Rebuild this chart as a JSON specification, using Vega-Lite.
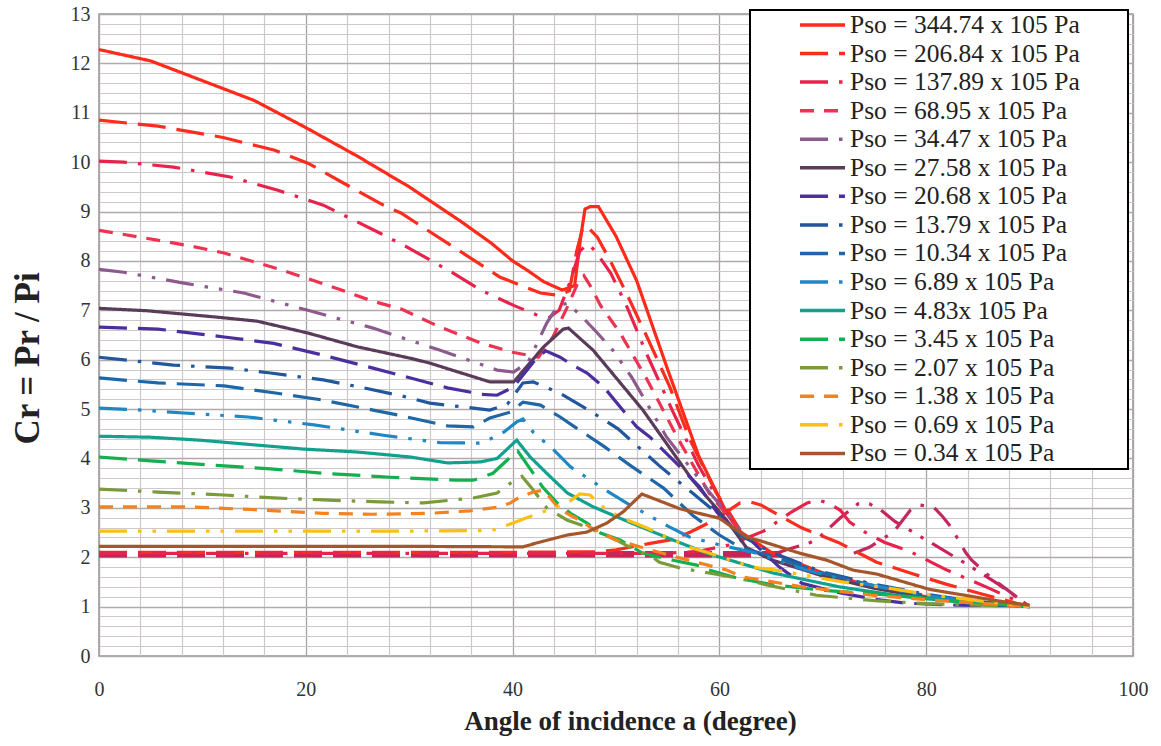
{
  "$schema": "https://vega.github.io/schema/vega-lite/v6.json",
  "width": 1034,
  "height": 642,
  "autosize": {"type": "none"},
  "padding": {"left": 99, "top": 14, "right": 28, "bottom": 90},
  "background": "white",
  "config": {
    "view": {"stroke": "#9a9494", "strokeWidth": 1.5},
    "legend": {
      "orient": "none", "legendX": 651, "legendY": -4,
      "fillColor": "white", "strokeColor": "black", "strokeWidth": 2, "padding": 1,
      "symbolType": "stroke", "symbolSize": 2025, "symbolStrokeWidth": 3.5, "symbolOffset": 47,
      "labelFont": "Liberation Serif", "labelFontSize": 25.5, "labelColor": "#222",
      "labelOffset": 3, "labelLimit": 500, "rowPadding": 0.56, "clipHeight": 28,
      "titleOrient": "right", "titleFontSize": 12, "titleColor": "white", "titlePadding": 43
    }
  },
  "datasets": {
    "t": [{"x": 0, "y": 2.06}, {"x": 66, "y": 2.06}],
    "c": [
      {"x":65.5,"y":2.08},{"x":66.5,"y":2.15},{"x":68.8,"y":2.3},{"x":69.6,"y":2.39},{"x":71.7,"y":2.8},{"x":72.3,"y":2.9},{"x":73.4,"y":3.08},{"x":74.5,"y":3.08},{"x":75.6,"y":2.96},{"x":77,"y":2.72},{"x":80,"y":2.35},{"x":84,"y":1.85},{"x":87,"y":1.45},{"x":90,"y":1.0}
    ],
    "e": [
      {"x":73,"y":2.08},{"x":74.5,"y":2.2},{"x":76,"y":2.4},{"x":76.8,"y":2.5},{"x":78.5,"y":2.96},{"x":79.3,"y":3.06},{"x":80.7,"y":3.02},{"x":81.6,"y":2.82},{"x":82.4,"y":2.61},{"x":83.8,"y":2.1},{"x":84.4,"y":1.94},{"x":86.5,"y":1.54},{"x":87.2,"y":1.44},{"x":90,"y":1.0}
    ],
    "d": [
      {"s":"344.74","b":1,"x":0,"y":12.28},{"s":"344.74","b":1,"x":5,"y":12.05},{"s":"344.74","b":1,"x":10,"y":11.65},{"s":"344.74","b":1,"x":15,"y":11.25},{"s":"344.74","b":1,"x":20,"y":10.7},{"s":"344.74","b":1,"x":25,"y":10.12},{"s":"344.74","b":1,"x":30,"y":9.5},{"s":"344.74","b":1,"x":35,"y":8.8},{"s":"344.74","b":1,"x":38,"y":8.35},{"s":"344.74","b":1,"x":40,"y":8.0},{"s":"344.74","b":1,"x":41.5,"y":7.8},{"s":"344.74","b":1,"x":43,"y":7.58},{"s":"344.74","b":1,"x":44.8,"y":7.41},{"s":"344.74","b":1,"x":46,"y":7.5},{"s":"344.74","b":1,"x":46.6,"y":8.5},{"s":"344.74","b":1,"x":47,"y":9.05},{"s":"344.74","b":1,"x":47.5,"y":9.1},{"s":"344.74","b":1,"x":48.3,"y":9.1},{"s":"344.74","b":1,"x":50,"y":8.5},{"s":"344.74","b":1,"x":52,"y":7.6},{"s":"344.74","b":1,"x":55,"y":5.8},{"s":"344.74","b":1,"x":58,"y":4.05},{"s":"344.74","b":1,"x":60.7,"y":2.9},{"s":"344.74","b":1,"x":62,"y":2.52},{"s":"344.74","b":1,"x":65,"y":2.1},{"s":"344.74","b":1,"x":70,"y":1.68},{"s":"344.74","b":1,"x":75,"y":1.4},{"s":"344.74","b":1,"x":80,"y":1.2},{"s":"344.74","b":1,"x":85,"y":1.08},{"s":"344.74","b":1,"x":90,"y":1.0},

      {"s":"206.84","b":1,"x":0,"y":10.85},{"s":"206.84","b":1,"x":5.7,"y":10.73},{"s":"206.84","b":1,"x":12,"y":10.5},{"s":"206.84","b":1,"x":17,"y":10.24},{"s":"206.84","b":1,"x":20.2,"y":9.98},{"s":"206.84","b":1,"x":24.3,"y":9.5},{"s":"206.84","b":1,"x":27.5,"y":9.13},{"s":"206.84","b":1,"x":29.2,"y":8.97},{"s":"206.84","b":1,"x":34,"y":8.32},{"s":"206.84","b":1,"x":38.8,"y":7.67},{"s":"206.84","b":1,"x":42.7,"y":7.35},{"s":"206.84","b":1,"x":44.5,"y":7.3},{"s":"206.84","b":1,"x":45.5,"y":7.4},{"s":"206.84","b":1,"x":46.2,"y":8.2},{"s":"206.84","b":1,"x":46.8,"y":8.68},{"s":"206.84","b":1,"x":47.2,"y":8.7},{"s":"206.84","b":1,"x":48.2,"y":8.48},{"s":"206.84","b":1,"x":49.4,"y":8.02},{"s":"206.84","b":1,"x":51,"y":7.35},{"s":"206.84","b":1,"x":53,"y":6.46},{"s":"206.84","b":1,"x":55.2,"y":5.45},{"s":"206.84","b":1,"x":57.1,"y":4.4},{"s":"206.84","b":1,"x":59.7,"y":3.3},{"s":"206.84","b":1,"x":61,"y":2.89},{"s":"206.84","b":1,"x":62,"y":2.55},
      {"s":"206.84","b":2,"x":0,"y":2.1},{"s":"206.84","b":2,"x":20,"y":2.1},{"s":"206.84","b":2,"x":40,"y":2.1},{"s":"206.84","b":2,"x":48,"y":2.11},{"s":"206.84","b":2,"x":50,"y":2.15},{"s":"206.84","b":2,"x":53.3,"y":2.28},{"s":"206.84","b":2,"x":55.5,"y":2.36},{"s":"206.84","b":2,"x":57.2,"y":2.51},{"s":"206.84","b":2,"x":59,"y":2.7},{"s":"206.84","b":2,"x":60.7,"y":2.92},{"s":"206.84","b":2,"x":62,"y":3.1},{"s":"206.84","b":2,"x":63,"y":3.12},{"s":"206.84","b":2,"x":64,"y":3.06},{"s":"206.84","b":2,"x":66,"y":2.82},{"s":"206.84","b":2,"x":68,"y":2.59},{"s":"206.84","b":2,"x":71.5,"y":2.3},{"s":"206.84","b":2,"x":75.2,"y":1.9},{"s":"206.84","b":2,"x":78.6,"y":1.67},{"s":"206.84","b":2,"x":82,"y":1.45},{"s":"206.84","b":2,"x":86,"y":1.22},{"s":"206.84","b":2,"x":90,"y":1.0},

      {"s":"137.89","b":1,"x":0,"y":10.02},{"s":"137.89","b":1,"x":2.4,"y":10.0},{"s":"137.89","b":1,"x":7.2,"y":9.9},{"s":"137.89","b":1,"x":12.7,"y":9.7},{"s":"137.89","b":1,"x":17.3,"y":9.43},{"s":"137.89","b":1,"x":21.7,"y":9.13},{"s":"137.89","b":1,"x":27.2,"y":8.56},{"s":"137.89","b":1,"x":29.8,"y":8.28},{"s":"137.89","b":1,"x":34.3,"y":7.75},{"s":"137.89","b":1,"x":37,"y":7.4},{"s":"137.89","b":1,"x":40.1,"y":7.1},{"s":"137.89","b":1,"x":42.4,"y":6.9},{"s":"137.89","b":1,"x":43.5,"y":6.85},{"s":"137.89","b":1,"x":44.5,"y":7.0},{"s":"137.89","b":1,"x":45.6,"y":7.6},{"s":"137.89","b":1,"x":46.5,"y":8.2},{"s":"137.89","b":1,"x":47.3,"y":8.35},{"s":"137.89","b":1,"x":48,"y":8.2},{"s":"137.89","b":1,"x":49.5,"y":7.75},{"s":"137.89","b":1,"x":51,"y":7.1},{"s":"137.89","b":1,"x":53,"y":6.1},{"s":"137.89","b":1,"x":55.5,"y":4.95},{"s":"137.89","b":1,"x":58,"y":3.85},{"s":"137.89","b":1,"x":60.5,"y":2.95},{"s":"137.89","b":1,"x":62,"y":2.5},
      {"s":"137.89","b":2,"x":0,"y":2.08},{"s":"137.89","b":2,"x":20,"y":2.08},{"s":"137.89","b":2,"x":40,"y":2.08},{"s":"137.89","b":2,"x":55,"y":2.08},{"s":"137.89","b":2,"x":58,"y":2.12},{"s":"137.89","b":2,"x":61,"y":2.25},{"s":"137.89","b":2,"x":63,"y":2.42},{"s":"137.89","b":2,"x":64.5,"y":2.55},{"s":"137.89","b":2,"x":65.4,"y":2.69},{"s":"137.89","b":2,"x":67,"y":2.92},{"s":"137.89","b":2,"x":68.5,"y":3.1},{"s":"137.89","b":2,"x":69.5,"y":3.16},{"s":"137.89","b":2,"x":70.5,"y":3.1},{"s":"137.89","b":2,"x":71.7,"y":2.95},{"s":"137.89","b":2,"x":72.6,"y":2.71},{"s":"137.89","b":2,"x":74.3,"y":2.48},{"s":"137.89","b":2,"x":76,"y":2.3},{"s":"137.89","b":2,"x":78.3,"y":2.13},{"s":"137.89","b":2,"x":82,"y":1.74},{"s":"137.89","b":2,"x":86,"y":1.38},{"s":"137.89","b":2,"x":90,"y":1.0},

      {"s":"68.95","b":1,"x":0,"y":8.62},{"s":"68.95","b":1,"x":4,"y":8.48},{"s":"68.95","b":1,"x":8.9,"y":8.3},{"s":"68.95","b":1,"x":12.1,"y":8.16},{"s":"68.95","b":1,"x":17.3,"y":7.84},{"s":"68.95","b":1,"x":22.1,"y":7.51},{"s":"68.95","b":1,"x":26.4,"y":7.19},{"s":"68.95","b":1,"x":29.3,"y":7.02},{"s":"68.95","b":1,"x":33,"y":6.66},{"s":"68.95","b":1,"x":36.9,"y":6.34},{"s":"68.95","b":1,"x":40,"y":6.15},{"s":"68.95","b":1,"x":42.5,"y":6.05},{"s":"68.95","b":1,"x":43.9,"y":6.46},{"s":"68.95","b":1,"x":45.3,"y":7.07},{"s":"68.95","b":1,"x":46.3,"y":7.55},{"s":"68.95","b":1,"x":46.9,"y":7.7},{"s":"68.95","b":1,"x":47.5,"y":7.5},{"s":"68.95","b":1,"x":48.5,"y":7.1},{"s":"68.95","b":1,"x":50.4,"y":6.54},{"s":"68.95","b":1,"x":53,"y":5.6},{"s":"68.95","b":1,"x":56,"y":4.4},{"s":"68.95","b":1,"x":59,"y":3.3},{"s":"68.95","b":1,"x":61.5,"y":2.65},{"s":"68.95","b":1,"x":62.5,"y":2.4},

      {"s":"34.47","b":1,"x":0,"y":7.83},{"s":"34.47","b":1,"x":2.4,"y":7.77},{"s":"34.47","b":1,"x":8.2,"y":7.55},{"s":"34.47","b":1,"x":14,"y":7.35},{"s":"34.47","b":1,"x":20.2,"y":7.0},{"s":"34.47","b":1,"x":26.5,"y":6.64},{"s":"34.47","b":1,"x":33,"y":6.19},{"s":"34.47","b":1,"x":38.5,"y":5.79},{"s":"34.47","b":1,"x":40.1,"y":5.75},{"s":"34.47","b":1,"x":41.5,"y":5.95},{"s":"34.47","b":1,"x":43.3,"y":6.74},{"s":"34.47","b":1,"x":44.3,"y":7.07},{"s":"34.47","b":1,"x":45.3,"y":7.15},{"s":"34.47","b":1,"x":46.8,"y":6.85},{"s":"34.47","b":1,"x":48.2,"y":6.54},{"s":"34.47","b":1,"x":49.7,"y":6.19},{"s":"34.47","b":1,"x":51.5,"y":5.65},{"s":"34.47","b":1,"x":54.9,"y":4.43},{"s":"34.47","b":1,"x":59.1,"y":3.3},{"s":"34.47","b":1,"x":61.5,"y":2.7},{"s":"34.47","b":1,"x":62.5,"y":2.4},

      {"s":"27.58","b":1,"x":0,"y":7.04},{"s":"27.58","b":1,"x":4.7,"y":6.99},{"s":"27.58","b":1,"x":11.5,"y":6.86},{"s":"27.58","b":1,"x":15.3,"y":6.78},{"s":"27.58","b":1,"x":20.2,"y":6.54},{"s":"27.58","b":1,"x":25,"y":6.26},{"s":"27.58","b":1,"x":30.1,"y":6.03},{"s":"27.58","b":1,"x":32,"y":5.93},{"s":"27.58","b":1,"x":37.8,"y":5.55},{"s":"27.58","b":1,"x":40.1,"y":5.55},{"s":"27.58","b":1,"x":43,"y":6.26},{"s":"27.58","b":1,"x":44.9,"y":6.62},{"s":"27.58","b":1,"x":45.4,"y":6.64},{"s":"27.58","b":1,"x":47.8,"y":6.19},{"s":"27.58","b":1,"x":52.6,"y":4.98},{"s":"27.58","b":1,"x":57.4,"y":3.56},{"s":"27.58","b":1,"x":60.7,"y":2.75},{"s":"27.58","b":1,"x":62.6,"y":2.2},{"s":"27.58","b":1,"x":65,"y":1.95},{"s":"27.58","b":1,"x":70,"y":1.62},{"s":"27.58","b":1,"x":75,"y":1.37},{"s":"27.58","b":1,"x":80,"y":1.18},{"s":"27.58","b":1,"x":85,"y":1.07},{"s":"27.58","b":1,"x":90,"y":1.0},

      {"s":"20.68","b":1,"x":0,"y":6.66},{"s":"20.68","b":1,"x":5.7,"y":6.62},{"s":"20.68","b":1,"x":12.1,"y":6.46},{"s":"20.68","b":1,"x":16.9,"y":6.33},{"s":"20.68","b":1,"x":21.7,"y":6.09},{"s":"20.68","b":1,"x":26.5,"y":5.83},{"s":"20.68","b":1,"x":33.7,"y":5.43},{"s":"20.68","b":1,"x":37,"y":5.3},{"s":"20.68","b":1,"x":38.5,"y":5.28},{"s":"20.68","b":1,"x":40.1,"y":5.45},{"s":"20.68","b":1,"x":42,"y":5.95},{"s":"20.68","b":1,"x":43.2,"y":6.18},{"s":"20.68","b":1,"x":44.6,"y":6.05},{"s":"20.68","b":1,"x":45.8,"y":5.89},{"s":"20.68","b":1,"x":47.2,"y":5.73},{"s":"20.68","b":1,"x":48.8,"y":5.45},{"s":"20.68","b":1,"x":52,"y":4.64},{"s":"20.68","b":1,"x":53.3,"y":4.43},{"s":"20.68","b":1,"x":56.2,"y":3.83},{"s":"20.68","b":1,"x":58.1,"y":3.42},{"s":"20.68","b":1,"x":59.8,"y":2.9},{"s":"20.68","b":1,"x":61.5,"y":2.55},{"s":"20.68","b":1,"x":63,"y":2.35},{"s":"20.68","b":1,"x":65.8,"y":1.8},{"s":"20.68","b":1,"x":68,"y":1.47},{"s":"20.68","b":1,"x":71.6,"y":1.28},{"s":"20.68","b":1,"x":75,"y":1.15},{"s":"20.68","b":1,"x":78,"y":1.07},{"s":"20.68","b":1,"x":83,"y":1.03},{"s":"20.68","b":1,"x":90,"y":1.02},

      {"s":"13.79","b":1,"x":0,"y":6.05},{"s":"13.79","b":1,"x":7.2,"y":5.89},{"s":"13.79","b":1,"x":12.7,"y":5.83},{"s":"13.79","b":1,"x":16.6,"y":5.73},{"s":"13.79","b":1,"x":21.7,"y":5.59},{"s":"13.79","b":1,"x":25.6,"y":5.43},{"s":"13.79","b":1,"x":29.2,"y":5.27},{"s":"13.79","b":1,"x":32,"y":5.12},{"s":"13.79","b":1,"x":37.8,"y":4.98},{"s":"13.79","b":1,"x":39.5,"y":5.1},{"s":"13.79","b":1,"x":41,"y":5.53},{"s":"13.79","b":1,"x":42,"y":5.55},{"s":"13.79","b":1,"x":44.6,"y":5.32},{"s":"13.79","b":1,"x":47.2,"y":5.0},{"s":"13.79","b":1,"x":50.2,"y":4.6},{"s":"13.79","b":1,"x":54.2,"y":3.85},{"s":"13.79","b":1,"x":57.4,"y":3.3},{"s":"13.79","b":1,"x":60,"y":2.85},{"s":"13.79","b":1,"x":62,"y":2.45},{"s":"13.79","b":1,"x":65,"y":2.1},{"s":"13.79","b":1,"x":70,"y":1.7},{"s":"13.79","b":1,"x":75,"y":1.45},{"s":"13.79","b":1,"x":80,"y":1.25},{"s":"13.79","b":1,"x":85,"y":1.1},{"s":"13.79","b":1,"x":90,"y":1.0},

      {"s":"10.34","b":1,"x":0,"y":5.63},{"s":"10.34","b":1,"x":5.7,"y":5.53},{"s":"10.34","b":1,"x":12.1,"y":5.47},{"s":"10.34","b":1,"x":16.9,"y":5.33},{"s":"10.34","b":1,"x":21.7,"y":5.18},{"s":"10.34","b":1,"x":26.5,"y":4.98},{"s":"10.34","b":1,"x":28.9,"y":4.88},{"s":"10.34","b":1,"x":33.7,"y":4.66},{"s":"10.34","b":1,"x":36.2,"y":4.64},{"s":"10.34","b":1,"x":37.8,"y":4.82},{"s":"10.34","b":1,"x":39.8,"y":4.94},{"s":"10.34","b":1,"x":41,"y":5.14},{"s":"10.34","b":1,"x":42.7,"y":5.08},{"s":"10.34","b":1,"x":44.6,"y":4.84},{"s":"10.34","b":1,"x":46,"y":4.64},{"s":"10.34","b":1,"x":48.8,"y":4.25},{"s":"10.34","b":1,"x":51.3,"y":3.87},{"s":"10.34","b":1,"x":54.6,"y":3.4},{"s":"10.34","b":1,"x":57.4,"y":2.85},{"s":"10.34","b":1,"x":60,"y":2.45},{"s":"10.34","b":1,"x":62,"y":2.2},{"s":"10.34","b":1,"x":65,"y":2.02},{"s":"10.34","b":1,"x":70,"y":1.68},{"s":"10.34","b":1,"x":75,"y":1.42},{"s":"10.34","b":1,"x":80,"y":1.22},{"s":"10.34","b":1,"x":85,"y":1.1},{"s":"10.34","b":1,"x":90,"y":1.0},

      {"s":"6.89","b":1,"x":0,"y":5.02},{"s":"6.89","b":1,"x":4.1,"y":4.98},{"s":"6.89","b":1,"x":8.2,"y":4.92},{"s":"6.89","b":1,"x":14.4,"y":4.84},{"s":"6.89","b":1,"x":20.8,"y":4.68},{"s":"6.89","b":1,"x":27.5,"y":4.47},{"s":"6.89","b":1,"x":33,"y":4.32},{"s":"6.89","b":1,"x":37,"y":4.31},{"s":"6.89","b":1,"x":39,"y":4.51},{"s":"6.89","b":1,"x":40.4,"y":4.74},{"s":"6.89","b":1,"x":41,"y":4.8},{"s":"6.89","b":1,"x":42,"y":4.53},{"s":"6.89","b":1,"x":44,"y":4.17},{"s":"6.89","b":1,"x":45.6,"y":3.83},{"s":"6.89","b":1,"x":49,"y":3.36},{"s":"6.89","b":1,"x":51,"y":3.1},{"s":"6.89","b":1,"x":55.2,"y":2.61},{"s":"6.89","b":1,"x":57.1,"y":2.41},{"s":"6.89","b":1,"x":60,"y":2.25},{"s":"6.89","b":1,"x":63.6,"y":2.08},{"s":"6.89","b":1,"x":68.4,"y":1.74},{"s":"6.89","b":1,"x":72,"y":1.55},{"s":"6.89","b":1,"x":76,"y":1.38},{"s":"6.89","b":1,"x":80,"y":1.22},{"s":"6.89","b":1,"x":85,"y":1.1},{"s":"6.89","b":1,"x":90,"y":1.0},

      {"s":"4.83","b":1,"x":0,"y":4.45},{"s":"4.83","b":1,"x":5,"y":4.43},{"s":"4.83","b":1,"x":9.8,"y":4.37},{"s":"4.83","b":1,"x":15.3,"y":4.27},{"s":"4.83","b":1,"x":19.8,"y":4.19},{"s":"4.83","b":1,"x":25,"y":4.13},{"s":"4.83","b":1,"x":30.1,"y":4.03},{"s":"4.83","b":1,"x":33.7,"y":3.91},{"s":"4.83","b":1,"x":36.9,"y":3.93},{"s":"4.83","b":1,"x":38.5,"y":4.0},{"s":"4.83","b":1,"x":40.4,"y":4.37},{"s":"4.83","b":1,"x":41.7,"y":4.03},{"s":"4.83","b":1,"x":43.3,"y":3.7},{"s":"4.83","b":1,"x":45.3,"y":3.3},{"s":"4.83","b":1,"x":47.8,"y":3.02},{"s":"4.83","b":1,"x":51.4,"y":2.7},{"s":"4.83","b":1,"x":55.5,"y":2.35},{"s":"4.83","b":1,"x":58.8,"y":2.08},{"s":"4.83","b":1,"x":65.2,"y":1.68},{"s":"4.83","b":1,"x":71.6,"y":1.4},{"s":"4.83","b":1,"x":78,"y":1.2},{"s":"4.83","b":1,"x":84.5,"y":1.07},{"s":"4.83","b":1,"x":90,"y":1.02},

      {"s":"3.45","b":1,"x":0,"y":4.03},{"s":"3.45","b":1,"x":5,"y":3.95},{"s":"3.45","b":1,"x":12.1,"y":3.85},{"s":"3.45","b":1,"x":16.6,"y":3.79},{"s":"3.45","b":1,"x":21.7,"y":3.7},{"s":"3.45","b":1,"x":28.2,"y":3.62},{"s":"3.45","b":1,"x":34.7,"y":3.56},{"s":"3.45","b":1,"x":36.2,"y":3.56},{"s":"3.45","b":1,"x":38.1,"y":3.7},{"s":"3.45","b":1,"x":39.8,"y":4.03},{"s":"3.45","b":1,"x":40.5,"y":4.15},{"s":"3.45","b":1,"x":41.9,"y":3.73},{"s":"3.45","b":1,"x":42.9,"y":3.42},{"s":"3.45","b":1,"x":44.3,"y":3.1},{"s":"3.45","b":1,"x":45.6,"y":2.89},{"s":"3.45","b":1,"x":47.2,"y":2.69},{"s":"3.45","b":1,"x":48.5,"y":2.49},{"s":"3.45","b":1,"x":50.4,"y":2.35},{"s":"3.45","b":1,"x":52.6,"y":2.08},{"s":"3.45","b":1,"x":55.5,"y":1.94},{"s":"3.45","b":1,"x":57.8,"y":1.84},{"s":"3.45","b":1,"x":59,"y":1.74},{"s":"3.45","b":1,"x":61.7,"y":1.58},{"s":"3.45","b":1,"x":65.2,"y":1.44},{"s":"3.45","b":1,"x":70,"y":1.33},{"s":"3.45","b":1,"x":78.7,"y":1.2},{"s":"3.45","b":1,"x":84,"y":1.08},{"s":"3.45","b":1,"x":90,"y":1.0},

      {"s":"2.07","b":1,"x":0,"y":3.38},{"s":"2.07","b":1,"x":5.7,"y":3.32},{"s":"2.07","b":1,"x":12.1,"y":3.26},{"s":"2.07","b":1,"x":16.9,"y":3.2},{"s":"2.07","b":1,"x":21.7,"y":3.16},{"s":"2.07","b":1,"x":27.2,"y":3.12},{"s":"2.07","b":1,"x":31.4,"y":3.1},{"s":"2.07","b":1,"x":36.2,"y":3.2},{"s":"2.07","b":1,"x":38.5,"y":3.3},{"s":"2.07","b":1,"x":39.8,"y":3.5},{"s":"2.07","b":1,"x":40.9,"y":3.64},{"s":"2.07","b":1,"x":42,"y":3.36},{"s":"2.07","b":1,"x":43.3,"y":3.0},{"s":"2.07","b":1,"x":45.3,"y":2.75},{"s":"2.07","b":1,"x":47.2,"y":2.61},{"s":"2.07","b":1,"x":50,"y":2.35},{"s":"2.07","b":1,"x":52.3,"y":2.1},{"s":"2.07","b":1,"x":53.3,"y":2.04},{"s":"2.07","b":1,"x":54.2,"y":1.9},{"s":"2.07","b":1,"x":56.2,"y":1.78},{"s":"2.07","b":1,"x":59,"y":1.68},{"s":"2.07","b":1,"x":61.7,"y":1.58},{"s":"2.07","b":1,"x":65,"y":1.42},{"s":"2.07","b":1,"x":67.8,"y":1.3},{"s":"2.07","b":1,"x":69.4,"y":1.23},{"s":"2.07","b":1,"x":75,"y":1.12},{"s":"2.07","b":1,"x":80,"y":1.06},{"s":"2.07","b":1,"x":90,"y":1.0},

      {"s":"1.38","b":1,"x":0,"y":3.02},{"s":"1.38","b":1,"x":8.9,"y":3.02},{"s":"1.38","b":1,"x":15.3,"y":2.96},{"s":"1.38","b":1,"x":21.7,"y":2.89},{"s":"1.38","b":1,"x":26.5,"y":2.87},{"s":"1.38","b":1,"x":32,"y":2.89},{"s":"1.38","b":1,"x":35.9,"y":2.94},{"s":"1.38","b":1,"x":38.8,"y":3.02},{"s":"1.38","b":1,"x":39.8,"y":3.1},{"s":"1.38","b":1,"x":40.7,"y":3.22},{"s":"1.38","b":1,"x":42,"y":3.32},{"s":"1.38","b":1,"x":43,"y":3.36},{"s":"1.38","b":1,"x":44.6,"y":2.96},{"s":"1.38","b":1,"x":46.5,"y":2.75},{"s":"1.38","b":1,"x":47.5,"y":2.61},{"s":"1.38","b":1,"x":50,"y":2.35},{"s":"1.38","b":1,"x":55,"y":2.05},{"s":"1.38","b":1,"x":60.7,"y":1.74},{"s":"1.38","b":1,"x":62.3,"y":1.6},{"s":"1.38","b":1,"x":68,"y":1.4},{"s":"1.38","b":1,"x":74.8,"y":1.23},{"s":"1.38","b":1,"x":80,"y":1.14},{"s":"1.38","b":1,"x":85,"y":1.07},{"s":"1.38","b":1,"x":90,"y":1.0},

      {"s":"0.69","b":1,"x":0,"y":2.53},{"s":"0.69","b":1,"x":10,"y":2.53},{"s":"0.69","b":1,"x":20,"y":2.53},{"s":"0.69","b":1,"x":30,"y":2.53},{"s":"0.69","b":1,"x":38,"y":2.54},{"s":"0.69","b":1,"x":40,"y":2.69},{"s":"0.69","b":1,"x":42,"y":2.85},{"s":"0.69","b":1,"x":44,"y":3.0},{"s":"0.69","b":1,"x":45.3,"y":3.1},{"s":"0.69","b":1,"x":46.5,"y":3.28},{"s":"0.69","b":1,"x":47.5,"y":3.26},{"s":"0.69","b":1,"x":48.5,"y":3.05},{"s":"0.69","b":1,"x":50.4,"y":2.81},{"s":"0.69","b":1,"x":53,"y":2.59},{"s":"0.69","b":1,"x":57.1,"y":2.2},{"s":"0.69","b":1,"x":58.8,"y":2.1},{"s":"0.69","b":1,"x":63.2,"y":1.8},{"s":"0.69","b":1,"x":65.5,"y":1.74},{"s":"0.69","b":1,"x":69.7,"y":1.58},{"s":"0.69","b":1,"x":71.9,"y":1.5},{"s":"0.69","b":1,"x":76.2,"y":1.38},{"s":"0.69","b":1,"x":80,"y":1.25},{"s":"0.69","b":1,"x":85,"y":1.12},{"s":"0.69","b":1,"x":90,"y":1.0},

      {"s":"0.34","b":1,"x":0,"y":2.22},{"s":"0.34","b":1,"x":10,"y":2.22},{"s":"0.34","b":1,"x":20,"y":2.22},{"s":"0.34","b":1,"x":30,"y":2.22},{"s":"0.34","b":1,"x":41,"y":2.21},{"s":"0.34","b":1,"x":42.7,"y":2.31},{"s":"0.34","b":1,"x":45.3,"y":2.45},{"s":"0.34","b":1,"x":47.2,"y":2.51},{"s":"0.34","b":1,"x":49.1,"y":2.69},{"s":"0.34","b":1,"x":50.7,"y":2.92},{"s":"0.34","b":1,"x":52.5,"y":3.28},{"s":"0.34","b":1,"x":56.2,"y":2.98},{"s":"0.34","b":1,"x":60,"y":2.79},{"s":"0.34","b":1,"x":62.6,"y":2.41},{"s":"0.34","b":1,"x":64,"y":2.33},{"s":"0.34","b":1,"x":67.8,"y":2.08},{"s":"0.34","b":1,"x":70.4,"y":1.94},{"s":"0.34","b":1,"x":72.9,"y":1.74},{"s":"0.34","b":1,"x":75.2,"y":1.66},{"s":"0.34","b":1,"x":80.3,"y":1.35},{"s":"0.34","b":1,"x":84,"y":1.22},{"s":"0.34","b":1,"x":88.3,"y":1.07},{"s":"0.34","b":1,"x":90,"y":1.03}
    ]
  },
  "layer": [
    {
      "data": {"name": "d"},
      "mark": {"type": "point", "opacity": 0},
      "encoding": {
        "x": {"field": "x", "type": "quantitative", "scale": {"domain": [0, 100], "nice": false, "zero": false},
          "axis": {"orient": "bottom", "values": [4,8,12,16,24,28,32,36,44,48,52,56,64,68,72,76,84,88,92,96], "grid": true, "gridColor": "#cfc8c8", "gridWidth": 1.2, "labels": false, "ticks": false, "domain": false, "title": null}},
        "y": {"field": "y", "type": "quantitative", "scale": {"domain": [0, 13], "nice": false, "zero": false},
          "axis": {"orient": "left", "values": [0.2,0.4,0.6,0.8,1.2,1.4,1.6,1.8,2.2,2.4,2.6,2.8,3.2,3.4,3.6,3.8,4.2,4.4,4.6,4.8,5.2,5.4,5.6,5.8,6.2,6.4,6.6,6.8,7.2,7.4,7.6,7.8,8.2,8.4,8.6,8.8,9.2,9.4,9.6,9.8,10.2,10.4,10.6,10.8,11.2,11.4,11.6,11.8,12.2,12.4,12.6,12.8], "grid": true, "gridColor": "#cfc8c8", "gridWidth": 1.2, "labels": false, "ticks": false, "domain": false, "title": null}}
      }
    },
    {
      "data": {"name": "t"},
      "mark": {"type": "line", "strokeWidth": 6.5, "strokeDash": [28, 11], "strokeCap": "butt", "color": "#c8245a"},
      "encoding": {
        "x": {"field": "x", "type": "quantitative", "axis": null},
        "y": {"field": "y", "type": "quantitative", "axis": null}
      }
    },
    {
      "data": {"name": "c"},
      "mark": {"type": "line", "strokeWidth": 3.2, "strokeDash": [24, 10, 3.5, 10, 3.5, 10], "strokeCap": "butt", "color": "#c8245a"},
      "encoding": {
        "x": {"field": "x", "type": "quantitative", "axis": null},
        "y": {"field": "y", "type": "quantitative", "axis": null}
      }
    },
    {
      "data": {"name": "e"},
      "mark": {"type": "line", "strokeWidth": 3.2, "strokeDash": [24, 11, 3.5, 11], "strokeCap": "butt", "color": "#c02a62"},
      "encoding": {
        "x": {"field": "x", "type": "quantitative", "axis": null},
        "y": {"field": "y", "type": "quantitative", "axis": null}
      }
    },
    {
      "data": {"name": "d"},
      "mark": {"type": "line", "strokeWidth": 3.2, "strokeCap": "butt"},
      "encoding": {
        "x": {"field": "x", "type": "quantitative", "scale": {"domain": [0, 100], "nice": false, "zero": false},
          "axis": {"orient": "bottom", "values": [0,20,40,60,80,100], "grid": true, "gridColor": "#a8a2a2", "gridWidth": 1.3, "domain": false, "ticks": false, "labelFlush": false,
            "labelFont": "Liberation Serif", "labelFontSize": 20, "labelColor": "#333", "labelPadding": 23,
            "title": "Angle of incidence a (degree)", "titleFont": "Liberation Serif", "titleFontWeight": "bold", "titleFontSize": 27, "titleColor": "#222",
            "titleX": 531, "titleY": 65, "titleAlign": "center", "titleBaseline": "middle"}},
        "y": {"field": "y", "type": "quantitative", "scale": {"domain": [0, 13], "nice": false, "zero": false},
          "axis": {"orient": "left", "values": [0,1,2,3,4,5,6,7,8,9,10,11,12,13], "grid": true, "gridColor": "#b0aaaa", "gridWidth": 1.3, "domain": false, "ticks": false,
            "labelFont": "Liberation Serif", "labelFontSize": 20, "labelColor": "#333", "labelPadding": 9,
            "title": "Cr = Pr / Pi", "titleFont": "Liberation Serif", "titleFontWeight": "bold", "titleFontSize": 35, "titleColor": "#222",
            "titleX": -72, "titleY": 344, "titleAngle": -90, "titleAlign": "center", "titleBaseline": "middle"}},
        "color": {"field": "s", "type": "nominal",
          "scale": {"domain": ["344.74","206.84","137.89","68.95","34.47","27.58","20.68","13.79","10.34","6.89","4.83","3.45","2.07","1.38","0.69","0.34"],
            "range": ["#ff2a1a","#fa2d1e","#e8234b","#ec3452","#8c5a8c","#5a3c5a","#4b2f9e","#21579d","#1f67a6","#1e88c7","#12a08f","#12b04f","#7b9a3a","#f5821f","#fdbf10","#a5572b"]},
          "legend": {"title": ".", "labelExpr": "datum.label == '4.83' ? 'Pso = 4.83x 105 Pa' : 'Pso = ' + datum.label + ' x 105 Pa'"}},
        "strokeDash": {"field": "s", "type": "nominal",
          "scale": {"domain": ["344.74","206.84","137.89","68.95","34.47","27.58","20.68","13.79","10.34","6.89","4.83","3.45","2.07","1.38","0.69","0.34"],
            "range": [[1,0],[28,11],[28,11,3.5,11],[14,10],[28,11,3.5,11,3.5,11],[1,0],[28,11],[28,11,3.5,11],[28,11],[28,11,3.5,11,3.5,11],[1,0],[28,11],[28,11,3.5,11],[14,10],[28,11,3.5,11,3.5,11],[1,0]]},
          "legend": {"title": ".", "labelExpr": "datum.label == '4.83' ? 'Pso = 4.83x 105 Pa' : 'Pso = ' + datum.label + ' x 105 Pa'"}},
        "detail": {"field": "b", "type": "nominal"}
      }
    }
  ],
  "resolve": {"axis": {"x": "independent", "y": "independent"}}
}
